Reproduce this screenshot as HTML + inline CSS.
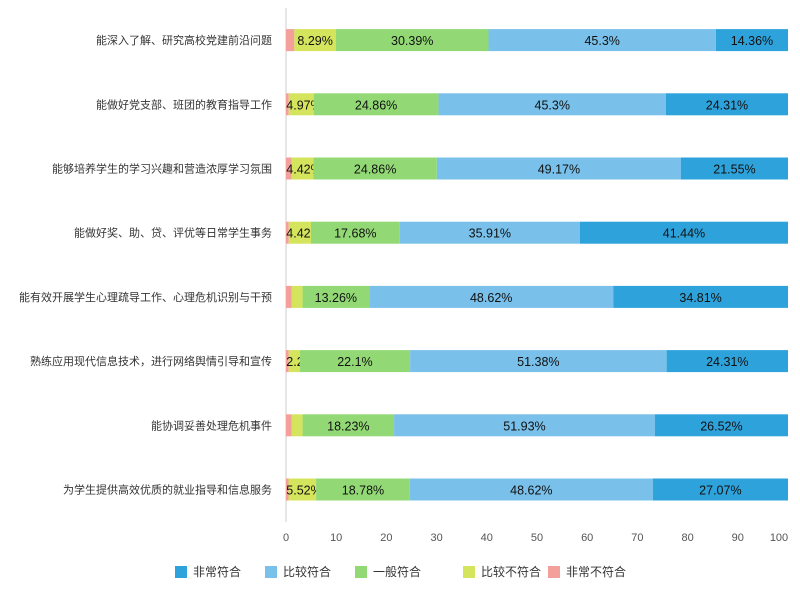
<!DOCTYPE html>
<html><head><meta charset="utf-8"><style>
body{margin:0;background:#fff;font-family:"Liberation Sans","Noto Sans CJK SC",sans-serif;}
svg text{font-family:"Liberation Sans","Noto Sans CJK SC",sans-serif;}
</style></head><body>
<svg id="chart" width="800" height="600"></svg>
<script>
const categories=["能深入了解、研究高校党建前沿问题","能做好党支部、班团的教育指导工作","能够培养学生的学习兴趣和营造浓厚学习氛围","能做好奖、助、贷、评优等日常学生事务","能有效开展学生心理疏导工作、心理危机识别与干预","熟练应用现代信息技术，进行网络舆情引导和宣传","能协调妥善处理危机事件","为学生提供高效优质的就业指导和信息服务"];
const seriesNames=["非常不符合","比较不符合","一般符合","比较符合","非常符合"];
const veryNot=[1.66,0.55,1.1,0.55,1.1,0.55,1.1,0.5];
const ratherNot=[8.29,4.97,4.42,4.42,2.2,2.21,2.2,5.52];
const general=[30.39,24.86,24.86,17.68,13.26,22.1,18.23,18.78];
const rather=[45.3,45.3,49.17,35.91,48.62,51.38,51.93,48.62];
const very=[14.36,24.31,21.55,41.44,34.81,24.31,26.52,27.07];
const ticks=[0,10,20,30,40,50,60,70,80,90,100];
const colors=["#f4a09a","#d4e45c","#92d975","#79c0ea","#2ea3db"];
const NS="http://www.w3.org/2000/svg";
const svg=document.getElementById('chart');
const x0=286,x1=788,yTop=8,rowH=64.2;
const xs=v=>x0+(x1-x0)*v/100;
const yc=i=>yTop+rowH*i+rowH/2;
function el(t,a){const e=document.createElementNS(NS,t);for(const k in a)e.setAttribute(k,a[k]);svg.appendChild(e);return e;}
const axis=el('line',{x1:x0,y1:yTop,x2:x0,y2:522,stroke:'#ccc'});


ticks.forEach(t=>{const tx=el('text',{x:Math.min(xs(t),779),y:541,'font-size':11,fill:'#555','text-anchor':'middle'});tx.textContent=t;

});
const series=[veryNot,ratherNot,general,rather,very];
categories.forEach((c,i)=>{
 const lb=el('text',{x:272,y:yc(i)+4,'font-size':11,fill:'#333','text-anchor':'end'});lb.textContent=c;
 
 
 const total=series.reduce((s,a)=>s+a[i],0);
 let acc=0;
 series.forEach((s,j)=>{const v=s[i];const n=v*100/total;
  const r=el('rect',{x:xs(acc),y:yc(i)-11,width:xs(acc+n)-xs(acc),height:22,fill:colors[j]});
  
  
  if(v>=2.21){const cx=Math.max(xs(acc+n/2),j===1?304:0);const t=el('text',{x:cx,y:yc(i)+5,'font-size':12.5,fill:'#111','text-anchor':'middle'});t.textContent=v+'%';
   
   }
  acc+=n;});
});
const legOrder=[4,3,2,1,0];const legX=[175,265,355,463,548];
legOrder.forEach((j,k)=>{
 const r=el('rect',{x:legX[k],y:566,width:12,height:12,fill:colors[j]});
 
 
 const t=el('text',{x:legX[k]+18,y:576,'font-size':12,fill:'#333'});t.textContent=seriesNames[j];
 
 
});
</script>
</body></html>
